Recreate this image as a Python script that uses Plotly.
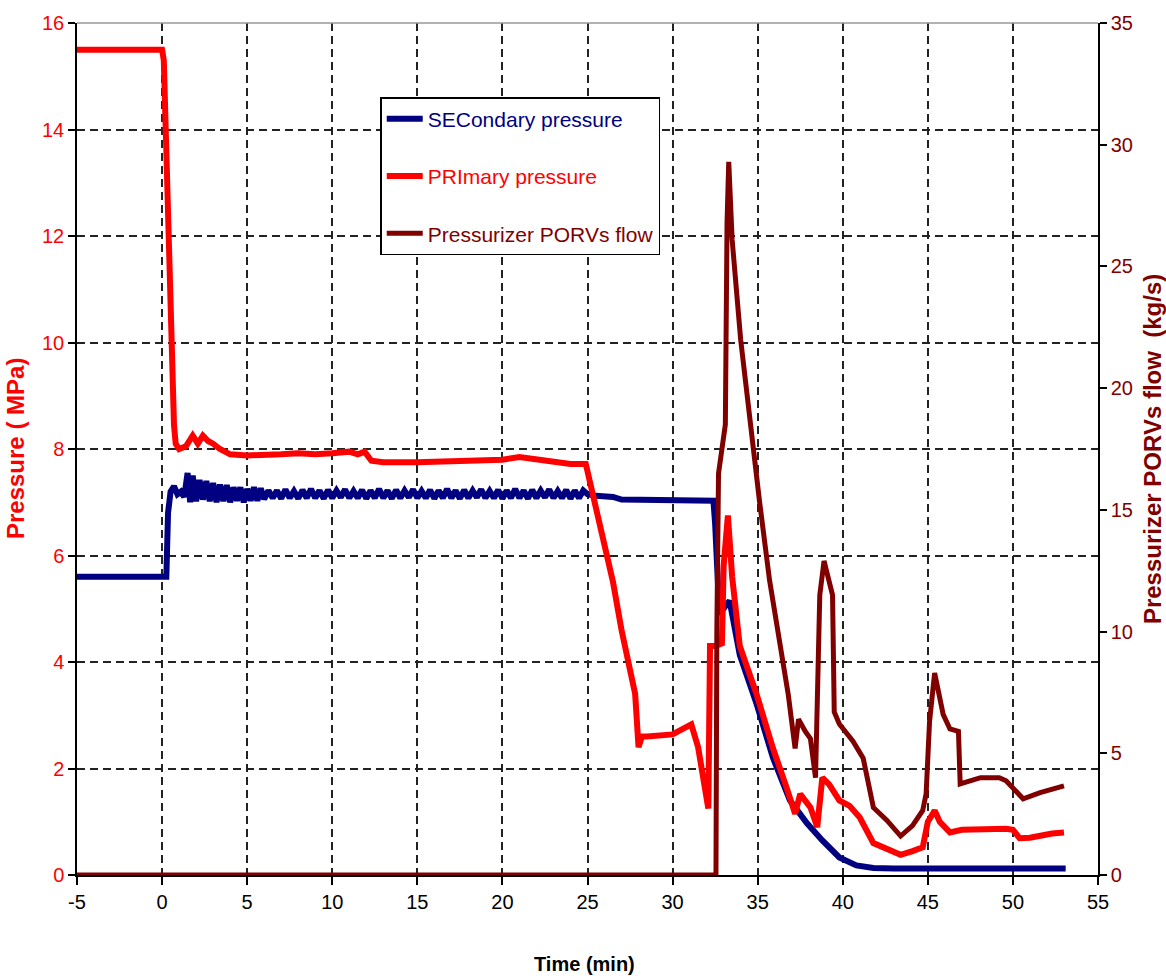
import plotly.graph_objects as go

# ---------------- data ----------------
sec_t = [-5, 0.25, 0.35, 0.5, 0.7, 0.9, 1.1, 1.3, 1.5, 1.65, 1.8, 2.0, 2.2, 2.4, 2.6, 2.8,
         3.0, 3.2, 3.4, 3.6, 3.8, 4.0, 4.2, 4.4, 4.6, 4.8, 5.0, 5.2, 5.4, 5.6, 5.8, 6.0,
         6.25, 6.5, 6.75, 7.0, 7.25, 7.5, 7.75, 8.0, 8.25, 8.5, 8.75, 9.0, 9.25, 9.5, 9.75,
         10.0, 10.25, 10.5, 10.75, 11.0, 11.25, 11.5, 11.75, 12.0, 12.25, 12.5, 12.75,
         13.0, 13.25, 13.5, 13.75, 14.0, 14.25, 14.5, 14.75, 15.0, 15.25, 15.5, 15.75,
         16.0, 16.25, 16.5, 16.75, 17.0, 17.25, 17.5, 17.75, 18.0, 18.25, 18.5, 18.75,
         19.0, 19.25, 19.5, 19.75, 20.0, 20.25, 20.5, 20.75, 21.0, 21.25, 21.5, 21.75,
         22.0, 22.25, 22.5, 22.75, 23.0, 23.25, 23.5, 23.75, 24.0, 24.25, 24.5, 24.75,
         25.0, 25.5, 26.0, 26.5, 27.0, 30.0, 32.4, 32.5, 32.6, 32.75, 33.35, 33.95,
         34.95, 35.9, 36.9, 37.9, 38.8, 39.8, 40.8, 41.8, 43.0, 53.1]
sec_v = [5.6, 5.6, 6.8, 7.2, 7.3, 7.15, 7.2, 7.1, 7.55, 7.0, 7.5, 7.02, 7.42, 7.05, 7.4, 7.02,
         7.36, 7.0, 7.33, 7.02, 7.32, 7.0, 7.28, 7.03, 7.28, 7.0, 7.25, 7.03, 7.28, 7.03, 7.26, 7.06,
         7.22, 7.08, 7.22, 7.07, 7.24, 7.08, 7.21, 7.07, 7.23, 7.08, 7.25, 7.08, 7.22, 7.07,
         7.23, 7.08, 7.22, 7.09, 7.24, 7.08, 7.21, 7.08, 7.23, 7.07, 7.22, 7.08, 7.25,
         7.08, 7.22, 7.07, 7.23, 7.08, 7.22, 7.09, 7.24, 7.08, 7.21, 7.08, 7.23,
         7.07, 7.22, 7.08, 7.25, 7.08, 7.22, 7.07, 7.23, 7.08, 7.22, 7.09, 7.24,
         7.08, 7.21, 7.08, 7.23, 7.07, 7.22, 7.08, 7.25, 7.08, 7.22, 7.07, 7.23,
         7.08, 7.22, 7.09, 7.24, 7.08, 7.21, 7.08, 7.23, 7.07, 7.22, 7.08, 7.22,
         7.15, 7.12, 7.12, 7.1, 7.05, 7.03, 7.03, 6.6, 6.0, 4.9, 5.15, 4.13,
         3.2, 2.2, 1.4, 0.97, 0.65, 0.33, 0.18, 0.13, 0.12, 0.12]

prim_t = [-5, 0, 0.1, 0.2, 0.4, 0.5, 0.7, 0.8, 1.0, 1.4, 1.8, 2.1, 2.4, 2.7, 3.0, 3.4,
          4.0, 5.0, 6.0, 7.0, 8.0, 9.0, 10.0, 11.0, 11.5, 11.9, 12.3, 13.0, 15.0, 17.0,
          19.0, 20.0, 21.0, 22.0, 23.0, 24.0, 24.9, 25.2, 25.6, 26.0, 26.5, 27.0, 27.6,
          27.8, 28.0, 28.2, 28.5, 29.0, 30.0, 31.1, 31.5, 32.1, 32.2, 32.5, 32.9, 33.0,
          33.25, 33.5, 33.95, 34.95, 35.9, 36.7, 37.2, 37.5, 38.1, 38.5, 38.8, 39.2, 39.8,
          40.4, 41.0, 41.8, 42.5, 43.4, 44.1, 44.7, 45.0, 45.4, 45.7, 46.3, 47.0, 48.1,
          49.6, 50.0, 50.4, 51.0, 51.6, 52.3, 53.0]
prim_v = [15.5, 15.5, 15.3, 14.0, 11.9, 10.0, 8.45, 8.1, 8.0, 8.05, 8.25, 8.1, 8.25, 8.15,
          8.1, 8.0, 7.9, 7.88, 7.88, 7.9, 7.92, 7.9, 7.92, 7.95, 7.9, 7.95, 7.78, 7.75,
          7.75, 7.78, 7.8, 7.8, 7.85, 7.8, 7.75, 7.72, 7.72, 7.3, 6.73, 6.1, 5.5, 4.6, 3.7,
          3.4, 2.4, 2.6, 2.6, 2.62, 2.64, 2.83, 2.4, 1.25, 4.3, 4.3, 4.35, 5.8, 6.75, 5.6,
          4.3, 3.38, 2.38, 1.64, 1.15, 1.52, 1.27, 0.9, 1.83, 1.7, 1.4, 1.3, 1.08, 0.6,
          0.5, 0.38, 0.45, 0.52, 1.0, 1.21, 1.0, 0.8, 0.85, 0.87, 0.87, 0.85, 0.69, 0.7,
          0.74, 0.78, 0.8]

flow_t = [-5, 32.55, 32.6, 32.7, 33.1, 33.15, 33.2, 33.3, 33.4, 33.5, 34.0, 34.55, 35.1,
          35.7, 36.3, 36.8, 37.2, 37.4, 37.8, 38.1, 38.4, 38.55, 38.65, 38.9, 39.3, 39.4,
          39.5, 39.8, 40.6, 41.2, 41.8, 42.6, 43.4, 44.1, 44.7, 44.9, 45.1, 45.4, 45.9,
          46.3, 46.8, 46.9, 48.1, 49.2, 49.6, 50.6, 51.6, 53.0]
flow_v = [0, 0, 10.0, 16.5, 18.5, 23.4, 26.8, 29.3, 27.0, 26.1, 22.0, 18.6, 15.4,
          12.1, 9.44, 7.4, 5.2, 6.4, 5.9, 5.6, 4.0, 10.1, 11.5, 12.9, 11.9, 11.5,
          6.7, 6.2, 5.5, 4.8, 2.77, 2.24, 1.6, 2.03, 2.65, 3.34, 6.3, 8.3, 6.6,
          6.0, 5.9, 3.74, 4.0, 4.0, 3.87, 3.13, 3.38, 3.66]

x_ticks = [-5, 0, 5, 10, 15, 20, 25, 30, 35, 40, 45, 50, 55]
p_ticks = [0, 2, 4, 6, 8, 10, 12, 14, 16]
f_ticks = [0, 5, 10, 15, 20, 25, 30, 35]

NAVY = "#000080"
RED = "#FF0000"
DRED = "#800000"
FONT = "Liberation Sans, Arial, sans-serif"

fig = go.Figure()
fig.add_trace(go.Scatter(x=sec_t, y=sec_v, mode="lines",
                         name=f"<span style='color:{NAVY}'>SECondary pressure</span>",
                         line=dict(color=NAVY, width=6), legendgroup="a"))
fig.add_trace(go.Scatter(x=prim_t, y=prim_v, mode="lines",
                         name=f"<span style='color:{RED}'>PRImary pressure</span>",
                         line=dict(color=RED, width=6), legendgroup="b"))
fig.add_trace(go.Scatter(x=flow_t, y=flow_v, mode="lines", yaxis="y2",
                         name=f"<span style='color:{DRED}'>Pressurizer PORVs flow</span>",
                         line=dict(color=DRED, width=5), legendgroup="c"))

GRID = dict(showgrid=True, gridcolor="#222222", gridwidth=1.8, griddash="8px,5px")

fig.update_layout(
    width=1166, height=980,
    margin=dict(l=77, r=68, t=15, b=105),
    paper_bgcolor="white", plot_bgcolor="white",
    font=dict(family=FONT, size=20, color="black"),
    showlegend=True,
    legend=dict(x=0.297, y=0.913, xanchor="left", yanchor="top",
                bgcolor="white", bordercolor="black", borderwidth=1.5,
                font=dict(family=FONT, size=21),
                traceorder="grouped", tracegroupgap=27,
                itemwidth=36),
    xaxis=dict(range=[-5, 55], tickvals=x_ticks, ticktext=[str(v) for v in x_ticks],
               showline=True, linecolor="black", linewidth=1.5,
               ticks="outside", ticklen=8, tickcolor="black", tickwidth=1.5,
               zeroline=False, tickfont=dict(size=20, color="black"), **GRID),
    yaxis=dict(range=[0, 16], tickvals=p_ticks, ticktext=[str(v) for v in p_ticks],
               showline=True, linecolor="black", linewidth=1.5,
               ticks="outside", ticklen=7, tickcolor="black", tickwidth=1.5,
               zeroline=False, tickfont=dict(size=20, color=RED), **GRID),
    yaxis2=dict(range=[0, 35], tickvals=f_ticks, ticktext=[str(v) for v in f_ticks],
                overlaying="y", side="right",
                showline=True, linecolor="black", linewidth=1.5,
                ticks="outside", ticklen=7, tickcolor="black", tickwidth=1.5,
                showgrid=False, zeroline=False, tickfont=dict(size=20, color=DRED)),
    shapes=[dict(type="line", xref="paper", yref="paper", x0=0, x1=1, y0=1, y1=1,
                 line=dict(color="#999999", width=1.5))],
    annotations=[
        dict(text="<b>Pressure ( MPa)</b>", xref="paper", yref="paper",
             x=-0.0607, y=0.5, xanchor="center", yanchor="middle",
             textangle=-90, showarrow=False,
             font=dict(family=FONT, size=24, color=RED)),
        dict(text="<b>Pressurizer PORVs flow  (kg/s)</b>", xref="paper", yref="paper",
             x=1.053, y=0.5, xanchor="center", yanchor="middle",
             textangle=-90, showarrow=False,
             font=dict(family=FONT, size=24, color=DRED)),
        dict(text="<b>Time (min)</b>", xref="paper", yref="paper",
             x=0.4975, y=-0.1047, xanchor="center", yanchor="middle", showarrow=False,
             font=dict(family=FONT, size=20, color="black")),
    ],
)

fig.write_html("out.html")
